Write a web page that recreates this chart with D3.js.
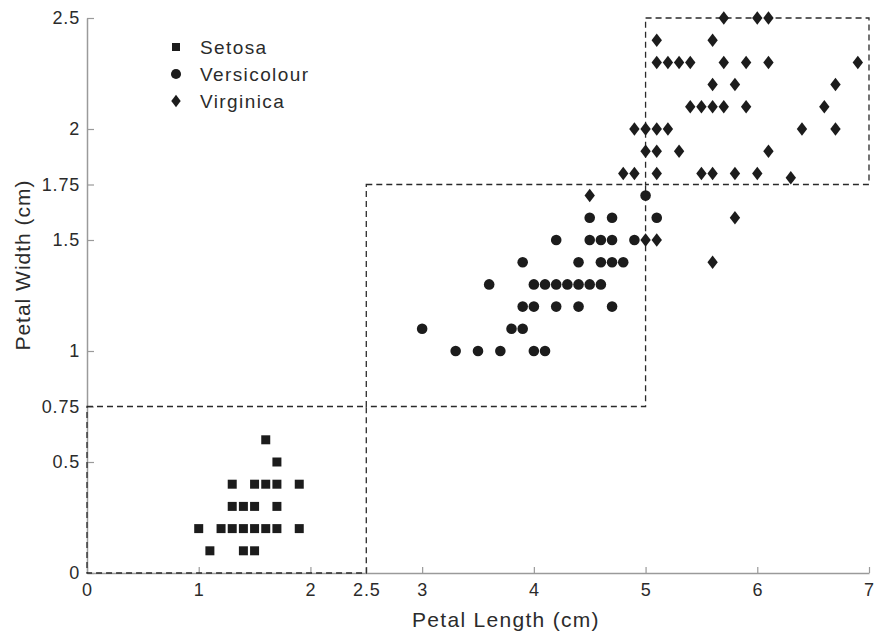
<!DOCTYPE html>
<html>
<head>
<meta charset="utf-8">
<script src="https://cdn.jsdelivr.net/npm/d3@7"></script>
<style>
  body { margin: 0; background: #fff; }
  text { font-family: "Liberation Sans", Arial, sans-serif; fill: #2b2b2b; }
</style>
</head>
<body>
<svg id="chart" width="874" height="632"></svg>
<script>
// petal length, petal width
const setosa = [
  [1.6, 0.6], [1.7, 0.5],
  [1.3, 0.4], [1.5, 0.4], [1.6, 0.4], [1.7, 0.4], [1.9, 0.4],
  [1.3, 0.3], [1.4, 0.3], [1.5, 0.3], [1.7, 0.3],
  [1.0, 0.2], [1.2, 0.2], [1.3, 0.2], [1.4, 0.2], [1.5, 0.2], [1.6, 0.2], [1.7, 0.2], [1.9, 0.2],
  [1.1, 0.1], [1.4, 0.1], [1.5, 0.1]
];
const versicolour = [
  [3.3, 1.0], [3.5, 1.0], [3.7, 1.0], [4.0, 1.0], [4.1, 1.0],
  [3.0, 1.1], [3.8, 1.1], [3.9, 1.1],
  [3.9, 1.2], [4.0, 1.2], [4.2, 1.2], [4.4, 1.2], [4.7, 1.2],
  [3.6, 1.3], [4.0, 1.3], [4.1, 1.3], [4.2, 1.3], [4.3, 1.3], [4.4, 1.3], [4.5, 1.3], [4.6, 1.3],
  [3.9, 1.4], [4.4, 1.4], [4.6, 1.4], [4.7, 1.4], [4.8, 1.4],
  [4.2, 1.5], [4.5, 1.5], [4.6, 1.5], [4.7, 1.5], [4.9, 1.5],
  [4.5, 1.6], [4.7, 1.6], [5.1, 1.6],
  [5.0, 1.7]
];
const virginica = [
  [5.7, 2.5], [6.0, 2.5], [6.1, 2.5],
  [5.1, 2.4], [5.6, 2.4],
  [5.1, 2.3], [5.2, 2.3], [5.3, 2.3], [5.4, 2.3], [5.7, 2.3], [5.9, 2.3], [6.1, 2.3], [6.9, 2.3],
  [5.6, 2.2], [5.8, 2.2], [6.7, 2.2],
  [5.4, 2.1], [5.5, 2.1], [5.6, 2.1], [5.7, 2.1], [5.9, 2.1], [6.6, 2.1],
  [4.9, 2.0], [5.0, 2.0], [5.1, 2.0], [5.2, 2.0], [6.4, 2.0], [6.7, 2.0],
  [5.0, 1.9], [5.1, 1.9], [5.3, 1.9], [6.1, 1.9],
  [4.8, 1.8], [4.9, 1.8], [5.1, 1.8], [5.5, 1.8], [5.6, 1.8], [5.8, 1.8], [6.0, 1.8], [6.3, 1.78],
  [4.5, 1.7], [5.8, 1.6], [5.0, 1.5], [5.1, 1.5], [5.6, 1.4]
];
const speciesNames = ['Setosa', 'Versicolour', 'Virginica'];
const xTicks = [0, 1, 2, 2.5, 3, 4, 5, 6, 7];
const yTicks = [0, 0.5, 0.75, 1, 1.5, 1.75, 2, 2.5];
// decision regions: [length from, length to, width from, width to]
const regions = [
  [0, 2.5, 0, 0.75],
  [2.5, 5, 0.75, 1.75],
  [5, 7, 1.75, 2.5]
];

const svg = d3.select('#chart');
const ink = '#1c1c1c';

const x = d3.scaleLinear().domain([0, 7]).range([87, 869]);
const y = d3.scaleLinear().domain([0, 2.5]).range([573, 18]);

// diamond a bit wider than d3's own
const wideDiamond = {
  draw(ctx, size) {
    const k = Math.sqrt(size / 65);
    const hw = 5 * k, hh = 6.5 * k;
    ctx.moveTo(0, -hh);
    ctx.lineTo(hw, 0);
    ctx.lineTo(0, hh);
    ctx.lineTo(-hw, 0);
    ctx.closePath();
  }
};
const symbols = [
  d3.symbol(d3.symbolSquare, 81),
  d3.symbol(d3.symbolCircle, 88),
  d3.symbol(wideDiamond, 70)
];

// axes
const xAxis = svg.append('g')
  .attr('transform', `translate(0, ${y(0)})`)
  .call(d3.axisBottom(x).tickValues(xTicks).tickSize(-6).tickSizeOuter(0).tickPadding(10).tickFormat(d => d));

const yAxis = svg.append('g')
  .attr('transform', `translate(${x(0)}, 0)`)
  .call(d3.axisLeft(y).tickValues(yTicks).tickSize(-7).tickSizeOuter(0).tickPadding(7).tickFormat(d => d));

[xAxis, yAxis].forEach(g => {
  g.select('.domain').attr('stroke', '#9a9a9a').attr('stroke-width', 1.5);
  g.selectAll('.tick line').attr('stroke', '#9a9a9a').attr('stroke-width', 1.2);
  g.selectAll('.tick text')
    .attr('fill', '#2b2b2b')
    .style('font-size', '18px')
    .style('letter-spacing', '0.8px');
});

// dashed decision boxes
svg.append('g')
  .selectAll('rect')
  .data(regions)
  .enter()
  .append('rect')
  .attr('x', d => x(d[0]))
  .attr('y', d => y(d[3]))
  .attr('width', d => x(d[1]) - x(d[0]))
  .attr('height', d => y(d[2]) - y(d[3]))
  .attr('fill', 'none')
  .attr('stroke', '#2a2a2a')
  .attr('stroke-width', 1.3)
  .attr('stroke-dasharray', '6 4');

// points
[setosa, versicolour, virginica].forEach((data, i) => {
  svg.append('g')
    .selectAll('path')
    .data(data)
    .enter()
    .append('path')
    .attr('d', symbols[i])
    .attr('transform', d => `translate(${x(d[0])}, ${y(d[1])})`)
    .attr('fill', ink);
});

// legend
const legendSymbols = [
  d3.symbol(d3.symbolSquare, 64),
  d3.symbol(d3.symbolCircle, 80),
  d3.symbol(wideDiamond, 58)
];
const legend = svg.append('g').attr('transform', 'translate(176, 47)');
speciesNames.forEach((name, i) => {
  legend.append('path')
    .attr('d', legendSymbols[i])
    .attr('transform', `translate(0, ${i * 27})`)
    .attr('fill', ink);
  legend.append('text')
    .attr('x', 24)
    .attr('y', i * 27)
    .attr('dy', '0.36em')
    .style('font-size', '19px')
    .style('letter-spacing', '1.4px')
    .text(name);
});

// axis titles
svg.append('text')
  .attr('x', 506)
  .attr('y', 627)
  .attr('text-anchor', 'middle')
  .style('font-size', '21px')
  .style('letter-spacing', '1.3px')
  .text('Petal Length (cm)');

svg.append('text')
  .attr('transform', 'translate(30, 265) rotate(-90)')
  .attr('text-anchor', 'middle')
  .style('font-size', '21px')
  .style('letter-spacing', '1px')
  .text('Petal Width (cm)');
</script>
</body>
</html>
